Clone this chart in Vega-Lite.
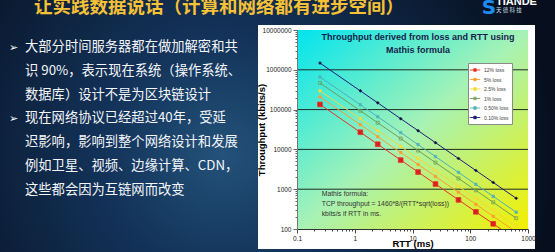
{
  "$schema": "https://vega.github.io/schema/vega-lite/v6.json",
  "width": 231,
  "height": 199,
  "autosize": {"type": "none"},
  "padding": {"left": 297, "top": 30, "right": 27, "bottom": 23},
  "background": "#0a1628",
  "config": {"view": {"stroke": null}, "font": "Liberation Sans"},
  "datasets": {
    "mathis": [
      {"loss": "12% loss", "rtt": 0.25, "tput": 134870},
      {"loss": "12% loss", "rtt": 1.25, "tput": 26974},
      {"loss": "12% loss", "rtt": 2.5, "tput": 13487},
      {"loss": "12% loss", "rtt": 6.25, "tput": 5395},
      {"loss": "12% loss", "rtt": 12.5, "tput": 2697},
      {"loss": "12% loss", "rtt": 25, "tput": 1349},
      {"loss": "12% loss", "rtt": 62.5, "tput": 539.5},
      {"loss": "12% loss", "rtt": 125, "tput": 269.7},
      {"loss": "12% loss", "rtt": 250, "tput": 134.9},
      {"loss": "12% loss", "rtt": 625, "tput": 53.9},
      {"loss": "5% loss", "rtt": 0.25, "tput": 208938},
      {"loss": "5% loss", "rtt": 1.25, "tput": 41788},
      {"loss": "5% loss", "rtt": 2.5, "tput": 20894},
      {"loss": "5% loss", "rtt": 6.25, "tput": 8358},
      {"loss": "5% loss", "rtt": 12.5, "tput": 4179},
      {"loss": "5% loss", "rtt": 25, "tput": 2089},
      {"loss": "5% loss", "rtt": 62.5, "tput": 835.8},
      {"loss": "5% loss", "rtt": 125, "tput": 417.9},
      {"loss": "5% loss", "rtt": 250, "tput": 208.9},
      {"loss": "5% loss", "rtt": 625, "tput": 83.6},
      {"loss": "2.5% loss", "rtt": 0.25, "tput": 295480},
      {"loss": "2.5% loss", "rtt": 1.25, "tput": 59096},
      {"loss": "2.5% loss", "rtt": 2.5, "tput": 29548},
      {"loss": "2.5% loss", "rtt": 6.25, "tput": 11819},
      {"loss": "2.5% loss", "rtt": 12.5, "tput": 5910},
      {"loss": "2.5% loss", "rtt": 25, "tput": 2955},
      {"loss": "2.5% loss", "rtt": 62.5, "tput": 1181.9},
      {"loss": "2.5% loss", "rtt": 125, "tput": 591},
      {"loss": "2.5% loss", "rtt": 250, "tput": 295.5},
      {"loss": "2.5% loss", "rtt": 625, "tput": 118.2},
      {"loss": "1% loss", "rtt": 0.25, "tput": 467200},
      {"loss": "1% loss", "rtt": 1.25, "tput": 93440},
      {"loss": "1% loss", "rtt": 2.5, "tput": 46720},
      {"loss": "1% loss", "rtt": 6.25, "tput": 18688},
      {"loss": "1% loss", "rtt": 12.5, "tput": 9344},
      {"loss": "1% loss", "rtt": 25, "tput": 4672},
      {"loss": "1% loss", "rtt": 62.5, "tput": 1868.8},
      {"loss": "1% loss", "rtt": 125, "tput": 934.4},
      {"loss": "1% loss", "rtt": 250, "tput": 467.2},
      {"loss": "1% loss", "rtt": 625, "tput": 186.9},
      {"loss": "0.50% loss", "rtt": 0.25, "tput": 660716},
      {"loss": "0.50% loss", "rtt": 1.25, "tput": 132143},
      {"loss": "0.50% loss", "rtt": 2.5, "tput": 66072},
      {"loss": "0.50% loss", "rtt": 6.25, "tput": 26429},
      {"loss": "0.50% loss", "rtt": 12.5, "tput": 13214},
      {"loss": "0.50% loss", "rtt": 25, "tput": 6607},
      {"loss": "0.50% loss", "rtt": 62.5, "tput": 2642.9},
      {"loss": "0.50% loss", "rtt": 125, "tput": 1321.4},
      {"loss": "0.50% loss", "rtt": 250, "tput": 660.7},
      {"loss": "0.50% loss", "rtt": 625, "tput": 264.3},
      {"loss": "0.10% loss", "rtt": 0.25, "tput": 1477412},
      {"loss": "0.10% loss", "rtt": 1.25, "tput": 295482},
      {"loss": "0.10% loss", "rtt": 2.5, "tput": 147741},
      {"loss": "0.10% loss", "rtt": 6.25, "tput": 59096},
      {"loss": "0.10% loss", "rtt": 12.5, "tput": 29548},
      {"loss": "0.10% loss", "rtt": 25, "tput": 14774},
      {"loss": "0.10% loss", "rtt": 62.5, "tput": 5909.6},
      {"loss": "0.10% loss", "rtt": 125, "tput": 2954.8},
      {"loss": "0.10% loss", "rtt": 250, "tput": 1477.4},
      {"loss": "0.10% loss", "rtt": 625, "tput": 591}
    ],
    "gridlines": [
      {"v": 1000}, {"v": 10000}, {"v": 100000}, {"v": 1000000}
    ]
  },
  "layer": [
    {
      "layer": [
        {
          "data": {"values": [{}]},
          "mark": {
            "type": "rect",
            "fill": {
              "gradient": "radial",
              "x1": 0.4, "y1": 0.55, "r1": 0,
              "x2": 0.4, "y2": 0.55, "r2": 0.6,
              "stops": [
                {"offset": 0, "color": "#23527a"},
                {"offset": 0.35, "color": "#13335a"},
                {"offset": 1, "color": "#070f1e"}
              ]
            }
          },
          "encoding": {
            "x": {"datum": 0, "type": "quantitative", "axis": null, "scale": {"domain": [0, 555], "range": [-297, 258], "nice": false, "zero": false}},
            "x2": {"datum": 555},
            "y": {"datum": 0, "type": "quantitative", "axis": null, "scale": {"domain": [0, 252], "range": [-30, 222], "nice": false, "zero": false}},
            "y2": {"datum": 252}
          }
        },
        {
          "data": {"values": [{}]},
          "mark": {"type": "rect", "fill": "#ffffff"},
          "encoding": {
            "x": {"datum": 258, "type": "quantitative", "axis": null, "scale": {"domain": [0, 555], "range": [-297, 258], "nice": false, "zero": false}},
            "x2": {"datum": 535},
            "y": {"datum": 25, "type": "quantitative", "axis": null, "scale": {"domain": [0, 252], "range": [-30, 222], "nice": false, "zero": false}},
            "y2": {"datum": 249}
          }
        },
        {
          "data": {"values": [{}]},
          "mark": {"type": "text", "text": "让实践数据说话（计算和网络都有进步空间）", "font": "Noto Sans CJK SC", "fontSize": 18.5, "fontWeight": "bold", "color": "#f7c136", "align": "left", "baseline": "alphabetic"},
          "encoding": {
            "x": {"datum": 34, "type": "quantitative", "axis": null, "scale": {"domain": [0, 555], "range": [-297, 258], "nice": false, "zero": false}},
            "y": {"datum": 12.5, "type": "quantitative", "axis": null, "scale": {"domain": [0, 252], "range": [-30, 222], "nice": false, "zero": false}}
          }
        },
        {
          "data": {"values": [{}]},
          "mark": {"type": "text", "text": "S", "font": "DejaVu Sans", "fontSize": 20, "fontWeight": "bold", "color": "#1e8cf5", "align": "center", "baseline": "alphabetic"},
          "encoding": {
            "x": {"datum": 489, "type": "quantitative", "axis": null, "scale": {"domain": [0, 555], "range": [-297, 258], "nice": false, "zero": false}},
            "y": {"datum": 14, "type": "quantitative", "axis": null, "scale": {"domain": [0, 252], "range": [-30, 222], "nice": false, "zero": false}}
          }
        },
        {
          "data": {"values": [{}]},
          "mark": {"type": "text", "text": "TIANDE", "font": "Liberation Sans", "fontSize": 11, "fontWeight": "bold", "color": "#ffffff", "align": "left", "baseline": "alphabetic"},
          "encoding": {
            "x": {"datum": 496, "type": "quantitative", "axis": null, "scale": {"domain": [0, 555], "range": [-297, 258], "nice": false, "zero": false}},
            "y": {"datum": 4.5, "type": "quantitative", "axis": null, "scale": {"domain": [0, 252], "range": [-30, 222], "nice": false, "zero": false}}
          }
        },
        {
          "data": {"values": [{}]},
          "mark": {"type": "text", "text": "天 德 科 技", "font": "Noto Sans CJK SC", "fontSize": 5.5, "color": "#d8e2ee", "align": "left", "baseline": "alphabetic"},
          "encoding": {
            "x": {"datum": 496, "type": "quantitative", "axis": null, "scale": {"domain": [0, 555], "range": [-297, 258], "nice": false, "zero": false}},
            "y": {"datum": 12, "type": "quantitative", "axis": null, "scale": {"domain": [0, 252], "range": [-30, 222], "nice": false, "zero": false}}
          }
        },
        {
          "data": {"values": [{}]},
          "mark": {"type": "text", "text": "➢", "font": "DejaVu Sans", "fontSize": 11, "color": "#ffffff", "align": "left", "baseline": "alphabetic"},
          "encoding": {
            "x": {"datum": 9, "type": "quantitative", "axis": null, "scale": {"domain": [0, 555], "range": [-297, 258], "nice": false, "zero": false}},
            "y": {"datum": 50.5, "type": "quantitative", "axis": null, "scale": {"domain": [0, 252], "range": [-30, 222], "nice": false, "zero": false}}
          }
        },
        {
          "data": {"values": [{}]},
          "mark": {"type": "text", "text": "➢", "font": "DejaVu Sans", "fontSize": 11, "color": "#ffffff", "align": "left", "baseline": "alphabetic"},
          "encoding": {
            "x": {"datum": 9, "type": "quantitative", "axis": null, "scale": {"domain": [0, 555], "range": [-297, 258], "nice": false, "zero": false}},
            "y": {"datum": 121.9, "type": "quantitative", "axis": null, "scale": {"domain": [0, 252], "range": [-30, 222], "nice": false, "zero": false}}
          }
        },
        {
          "data": {"values": [{}]},
          "mark": {
            "type": "text",
            "text": [
              "大部分时间服务器都在做加解密和共",
              "识 90%，表示现在系统（操作系统、",
              "数据库）设计不是为区块链设计",
              "现在网络协议已经超过40年，受延",
              "迟影响，影响到整个网络设计和发展",
              "例如卫星、视频、边缘计算、CDN，",
              "这些都会因为互链网而改变"
            ],
            "font": "Noto Sans CJK SC",
            "fontSize": 13.3,
            "lineHeight": 23.8,
            "color": "#f4f6fa",
            "align": "left",
            "baseline": "alphabetic"
          },
          "encoding": {
            "x": {"datum": 25, "type": "quantitative", "axis": null, "scale": {"domain": [0, 555], "range": [-297, 258], "nice": false, "zero": false}},
            "y": {"datum": 51, "type": "quantitative", "axis": null, "scale": {"domain": [0, 252], "range": [-30, 222], "nice": false, "zero": false}}
          }
        }
      ]
    },
    {
      "layer": [
        {
          "data": {"values": [{}]},
          "mark": {
            "type": "rect",
            "fill": {
              "gradient": "linear",
              "x1": 0, "y1": 0, "x2": 1, "y2": 1,
              "stops": [
                {"offset": 0, "color": "#00e4ef"},
                {"offset": 0.5, "color": "#a6f2b6"},
                {"offset": 1, "color": "#f3f000"}
              ]
            }
          },
          "encoding": {
            "x": {
              "datum": 0.1, "type": "quantitative",
              "scale": {"type": "log", "domain": [0.1, 1000], "nice": false},
              "axis": {
                "orient": "bottom",
                "title": "RTT (ms)",
                "values": [0.1, 0.2, 0.3, 0.4, 0.5, 0.6, 0.7, 0.8, 0.9, 1, 2, 3, 4, 5, 6, 7, 8, 9, 10, 20, 30, 40, 50, 60, 70, 80, 90, 100, 200, 300, 400, 500, 600, 700, 800, 900, 1000],
                "format": "~g",
                "labelExpr": "abs(log(datum.value) / LN10 - round(log(datum.value) / LN10)) < 0.001 ? datum.label : ''",
                "tickSize": {"condition": {"test": "abs(log(datum.value) / LN10 - round(log(datum.value) / LN10)) < 0.001", "value": 4}, "value": 2},
                "labelFontSize": 6.5,
                "labelColor": "#222222",
                "labelFlush": false,
                "labelOverlap": false,
                "labelPadding": 2,
                "tickColor": "#444444",
                "domainColor": "#333333",
                "grid": false,
                "titleFontSize": 9.5,
                "titleFontWeight": "bold",
                "titleColor": "#000000",
                "titlePadding": -3,
                "zindex": 1
              }
            },
            "x2": {"datum": 1000},
            "y": {
              "datum": 100, "type": "quantitative",
              "scale": {"type": "log", "domain": [100, 10000000], "nice": false},
              "axis": {
                "orient": "left",
                "title": "Throughput (kbits/s)",
                "values": [100, 200, 300, 400, 500, 600, 700, 800, 900, 1000, 2000, 3000, 4000, 5000, 6000, 7000, 8000, 9000, 10000, 20000, 30000, 40000, 50000, 60000, 70000, 80000, 90000, 100000, 200000, 300000, 400000, 500000, 600000, 700000, 800000, 900000, 1000000, 2000000, 3000000, 4000000, 5000000, 6000000, 7000000, 8000000, 9000000, 10000000],
                "format": "d",
                "labelExpr": "abs(log(datum.value) / LN10 - round(log(datum.value) / LN10)) < 0.001 ? datum.label : ''",
                "tickSize": {"condition": {"test": "abs(log(datum.value) / LN10 - round(log(datum.value) / LN10)) < 0.001", "value": 4}, "value": 2},
                "labelFontSize": 6.5,
                "labelColor": "#222222",
                "labelOverlap": false,
                "labelPadding": 2,
                "tickColor": "#666666",
                "domainColor": "#777777",
                "grid": false,
                "titleFontSize": 9.5,
                "titleFontWeight": "bold",
                "titleColor": "#000000",
                "titlePadding": -4,
                "zindex": 1
              }
            },
            "y2": {"datum": 10000000}
          }
        },
        {
          "data": {"name": "gridlines"},
          "mark": {"type": "rule", "color": "#1f2a26", "strokeWidth": 1},
          "encoding": {
            "y": {"field": "v", "type": "quantitative", "title": "Throughput (kbits/s)", "scale": {"type": "log", "domain": [100, 10000000], "nice": false}}
          }
        },
        {
          "data": {"name": "mathis"},
          "mark": {"type": "line", "clip": true, "strokeWidth": 1},
          "encoding": {
            "x": {"field": "rtt", "type": "quantitative", "title": "RTT (ms)", "scale": {"type": "log", "domain": [0.1, 1000], "nice": false}},
            "y": {"field": "tput", "type": "quantitative", "title": "Throughput (kbits/s)", "scale": {"type": "log", "domain": [100, 10000000], "nice": false}},
            "stroke": {
              "field": "loss", "type": "nominal",
              "scale": {"domain": ["12% loss", "5% loss", "2.5% loss", "1% loss", "0.50% loss", "0.10% loss"], "range": ["#e8341f", "#ff9c2e", "#f2d83a", "#6f9f55", "#4fb0b8", "#1b1f78"]},
              "legend": {
                "orient": "none", "legendX": 171, "legendY": 33, "title": null,
                "fillColor": "#ffffff", "strokeColor": "#8a8a8a", "padding": 3, "rowPadding": 1.5,
                "labelFontSize": 5, "labelColor": "#444444", "labelOffset": 5,
                "symbolType": "M-1.5,0H1.5M-0.35,-0.35H0.35V0.35H-0.35Z", "symbolSize": 49, "symbolStrokeWidth": 0.9,
                "encode": {
                  "symbols": {
                    "update": {
                      "shape": {"value": "M-1.5,0H1.5M-0.35,-0.35H0.35V0.35H-0.35Z"},
                      "fill": {"scale": "fill", "field": "value"},
                      "stroke": {"scale": "stroke", "field": "value"},
                      "strokeWidth": {"value": 0.9}
                    }
                  }
                }
              }
            }
          }
        },
        {
          "data": {"name": "mathis"},
          "transform": [{"filter": {"field": "loss", "equal": "12% loss"}}],
          "mark": {"type": "point", "shape": "square", "size": 22, "filled": true, "clip": true, "strokeWidth": 0.8, "opacity": 1},
          "encoding": {
            "x": {"field": "rtt", "type": "quantitative", "title": "RTT (ms)", "scale": {"type": "log", "domain": [0.1, 1000], "nice": false}},
            "y": {"field": "tput", "type": "quantitative", "title": "Throughput (kbits/s)", "scale": {"type": "log", "domain": [100, 10000000], "nice": false}},
            "fill": {
              "field": "loss", "type": "nominal", "legend": null,
              "scale": {"domain": ["12% loss", "5% loss", "2.5% loss", "1% loss", "0.50% loss", "0.10% loss"], "range": ["#d91e26", "#ff9c2e", "#ffe033", "transparent", "#4fb8c2", "#101010"]}
            },
            "stroke": {"field": "loss", "type": "nominal", "legend": null}
          }
        },
        {
          "data": {"name": "mathis"},
          "transform": [{"filter": {"field": "loss", "oneOf": ["5% loss", "2.5% loss", "0.50% loss"]}}],
          "mark": {"type": "point", "shape": "square", "size": 6, "filled": true, "clip": true, "strokeWidth": 0.6, "opacity": 1},
          "encoding": {
            "x": {"field": "rtt", "type": "quantitative", "title": "RTT (ms)", "scale": {"type": "log", "domain": [0.1, 1000], "nice": false}},
            "y": {"field": "tput", "type": "quantitative", "title": "Throughput (kbits/s)", "scale": {"type": "log", "domain": [100, 10000000], "nice": false}},
            "fill": {"field": "loss", "type": "nominal", "legend": null},
            "stroke": {"field": "loss", "type": "nominal", "legend": null}
          }
        },
        {
          "data": {"name": "mathis"},
          "transform": [{"filter": {"field": "loss", "equal": "1% loss"}}],
          "mark": {"type": "point", "shape": "square", "size": 9, "filled": true, "clip": true, "strokeWidth": 0.8, "opacity": 1},
          "encoding": {
            "x": {"field": "rtt", "type": "quantitative", "title": "RTT (ms)", "scale": {"type": "log", "domain": [0.1, 1000], "nice": false}},
            "y": {"field": "tput", "type": "quantitative", "title": "Throughput (kbits/s)", "scale": {"type": "log", "domain": [100, 10000000], "nice": false}},
            "fill": {"field": "loss", "type": "nominal", "legend": null},
            "stroke": {"field": "loss", "type": "nominal", "legend": null}
          }
        },
        {
          "data": {"name": "mathis"},
          "transform": [{"filter": {"field": "loss", "equal": "0.10% loss"}}],
          "mark": {"type": "point", "shape": "diamond", "size": 9, "filled": true, "clip": true, "strokeWidth": 0.6, "opacity": 1},
          "encoding": {
            "x": {"field": "rtt", "type": "quantitative", "title": "RTT (ms)", "scale": {"type": "log", "domain": [0.1, 1000], "nice": false}},
            "y": {"field": "tput", "type": "quantitative", "title": "Throughput (kbits/s)", "scale": {"type": "log", "domain": [100, 10000000], "nice": false}},
            "fill": {"field": "loss", "type": "nominal", "legend": null},
            "stroke": {"field": "loss", "type": "nominal", "legend": null}
          }
        },
        {
          "data": {"values": [{}]},
          "mark": {"type": "text", "text": ["Throughput derived from loss and RTT using", "Mathis formula"], "fontSize": 9, "fontWeight": "bold", "lineHeight": 12.7, "color": "#171c4a", "align": "center", "baseline": "alphabetic"},
          "encoding": {
            "x": {"datum": 12.4, "type": "quantitative", "scale": {"type": "log", "domain": [0.1, 1000], "nice": false}},
            "y": {"datum": 5510000, "type": "quantitative", "scale": {"type": "log", "domain": [100, 10000000], "nice": false}}
          }
        },
        {
          "data": {"values": [{}]},
          "mark": {"type": "text", "text": ["Mathis formula:", "TCP throughput = 1460*8/(RTT*sqrt(loss))", "kbits/s if RTT in ms."], "fontSize": 6.8, "lineHeight": 9.7, "color": "#333333", "align": "left", "baseline": "alphabetic"},
          "encoding": {
            "x": {"datum": 0.268, "type": "quantitative", "scale": {"type": "log", "domain": [0.1, 1000], "nice": false}},
            "y": {"datum": 659, "type": "quantitative", "scale": {"type": "log", "domain": [100, 10000000], "nice": false}}
          }
        }
      ]
    }
  ],
  "resolve": {"scale": {"x": "independent", "y": "independent"}}
}
